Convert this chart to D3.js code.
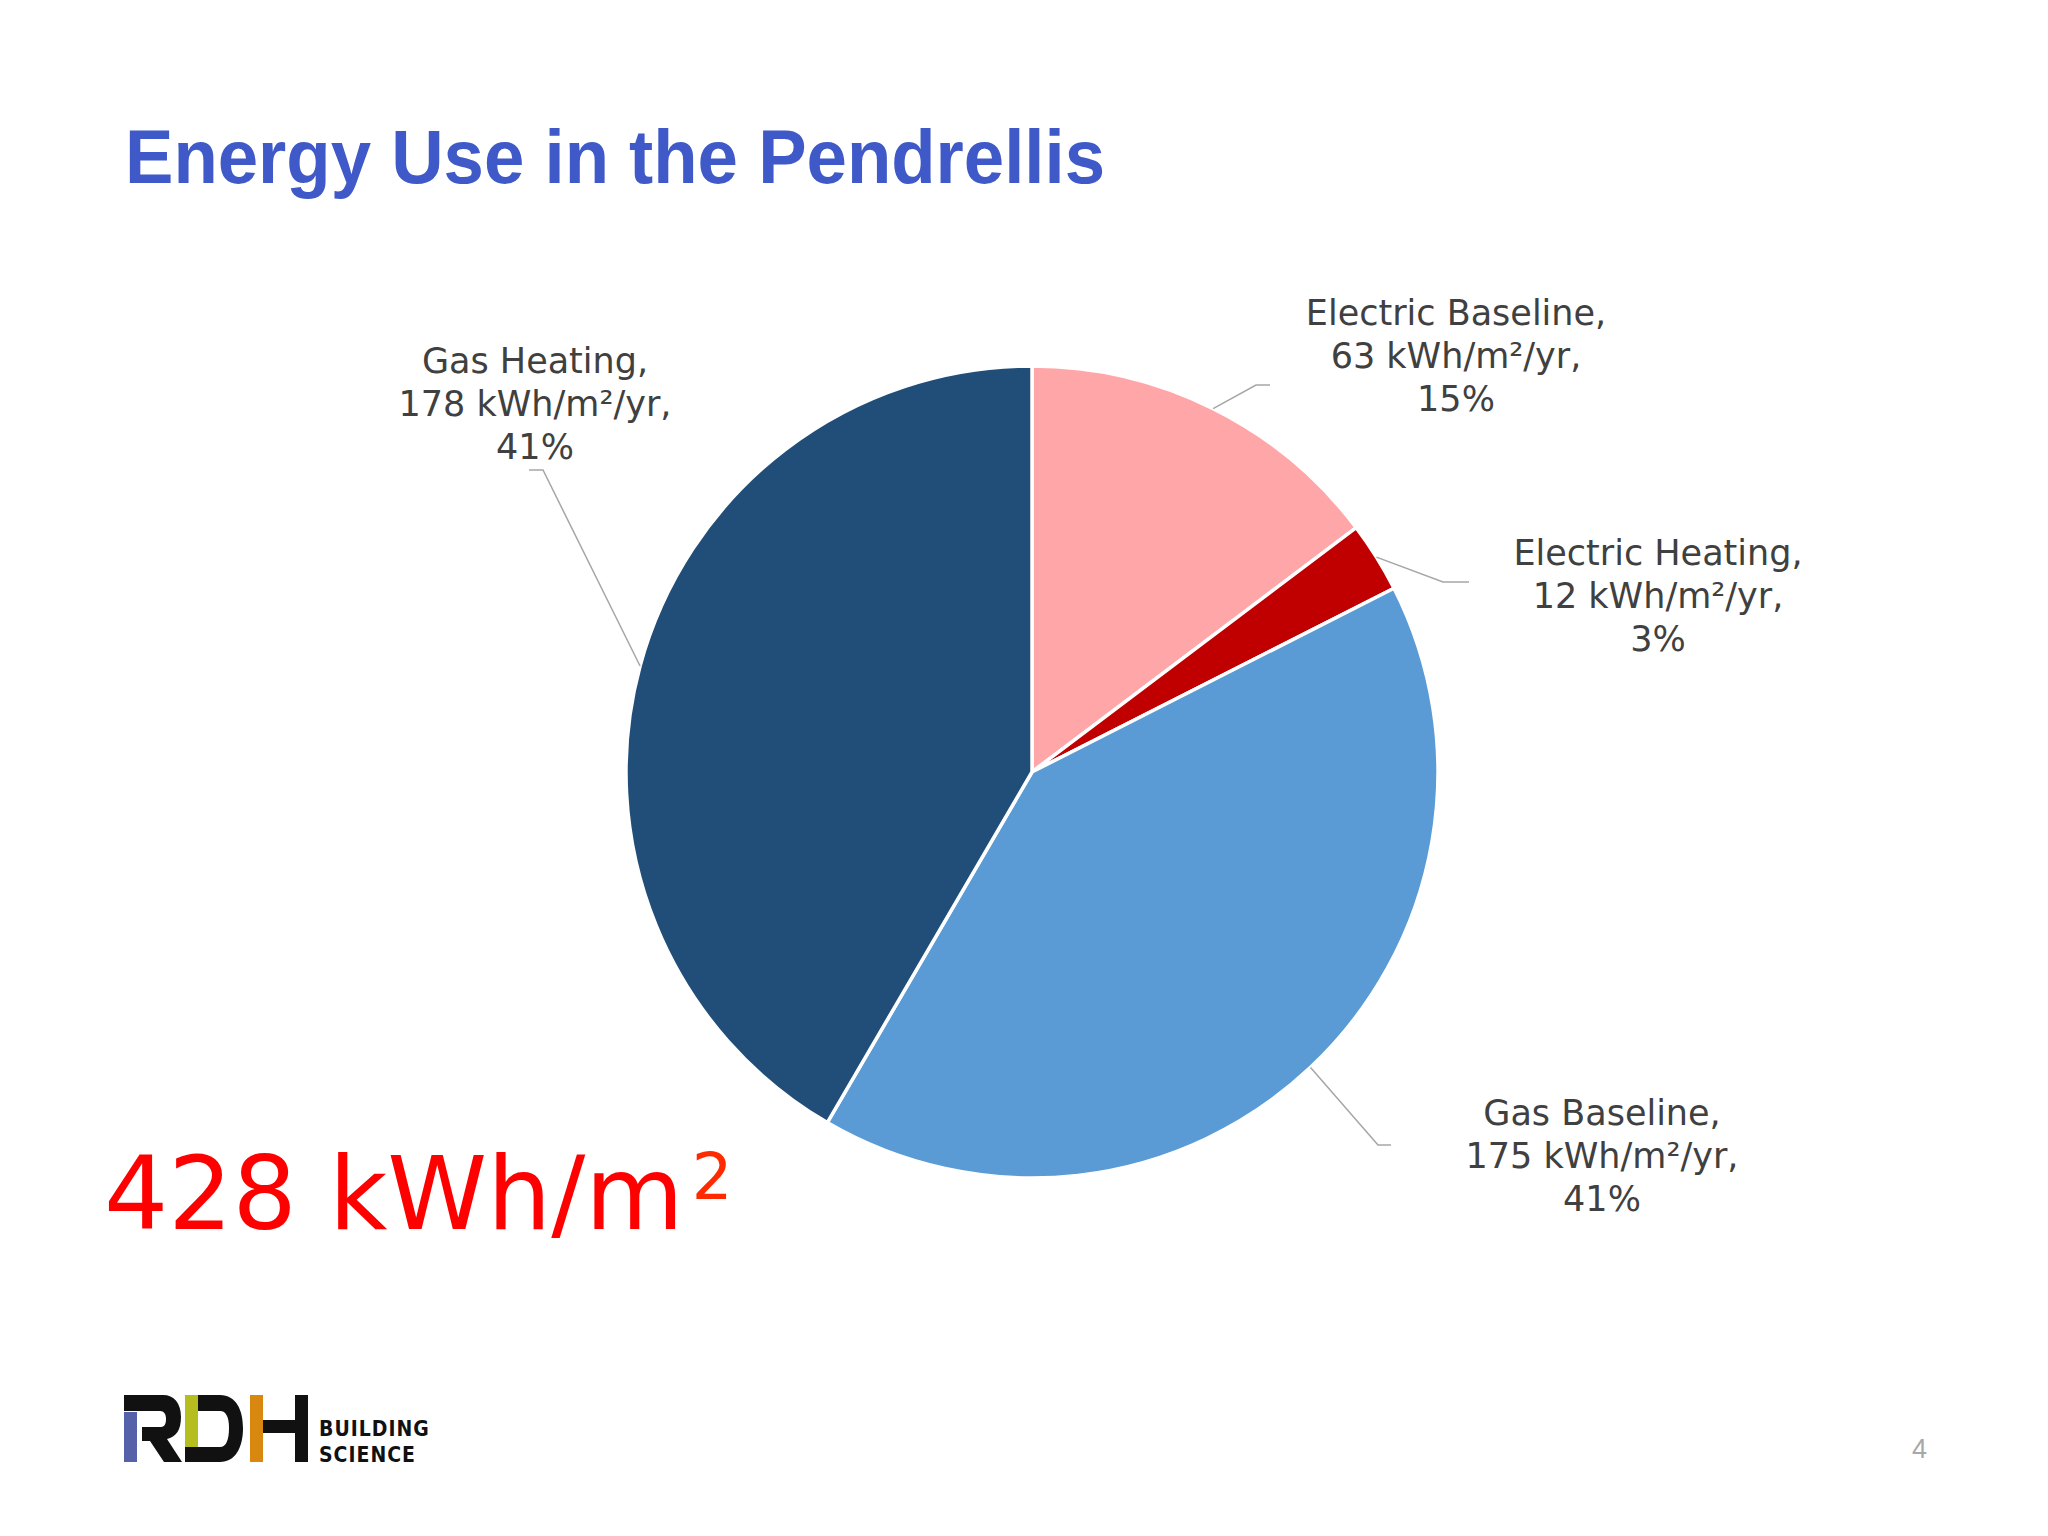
<!DOCTYPE html>
<html>
<head>
<meta charset="utf-8">
<script src="https://cdn.jsdelivr.net/npm/d3@7"></script>
<style>
  html, body { margin: 0; padding: 0; background: #ffffff; }
  svg { display: block; }
</style>
</head>
<body>
<svg id="chart" width="2048" height="1536"></svg>
<script>
// ---- data ----
const categories = ["Electric Baseline", "Electric Heating", "Gas Baseline", "Gas Heating"];
const values = [63, 12, 175, 178];
const percentLabels = ["15%", "3%", "41%", "41%"];
const unitLabel = "kWh/m²/yr";
const titleText = "Energy Use in the Pendrellis";
const pageNumber = "4";

// ---- styles / layout ----
const colors = ["#FFA7A8", "#C00000", "#5B9BD5", "#214E79"];
const W = 2048, H = 1536;
const cx = 1032, cy = 772, R = 406;
const labelLayout = {
  "Electric Baseline": { x: 1456, y: 325, elbow: [1256, 385], end: [1270, 385] },
  "Electric Heating":  { x: 1658, y: 565, elbow: [1443, 582], end: [1469, 582] },
  "Gas Baseline":      { x: 1602, y: 1125, elbow: [1378, 1145], end: [1391, 1145] },
  "Gas Heating":       { x: 535,  y: 373, elbow: [543, 470], end: [529, 470] }
};

const svg = d3.select("#chart");
svg.append("rect").attr("width", W).attr("height", H).attr("fill", "#ffffff");

// Title
svg.append("text")
  .attr("x", 125).attr("y", 183)
  .attr("font-family", "Liberation Sans, Arial, sans-serif")
  .attr("font-weight", "bold")
  .attr("font-size", 76)
  .attr("fill", "#3F5AC8")
  .attr("textLength", 980)
  .attr("lengthAdjust", "spacingAndGlyphs")
  .text(titleText);

// Pie
const data = categories.map((c, i) => ({ category: c, value: values[i], pct: percentLabels[i], color: colors[i] }));
const pie = d3.pie().sort(null).value(d => d.value).startAngle(0).endAngle(2 * Math.PI);
const arc = d3.arc().innerRadius(0).outerRadius(R);
const arcs = pie(data);

const g = svg.append("g").attr("transform", `translate(${cx},${cy})`);
g.selectAll("path.slice")
  .data(arcs)
  .join("path")
  .attr("class", "slice")
  .attr("d", arc)
  .attr("fill", d => d.data.color)
  .attr("stroke", "#ffffff")
  .attr("stroke-width", 3.5)
  .attr("stroke-linejoin", "round");

// Leader lines
arcs.forEach(a => {
  const mid = (a.startAngle + a.endAngle) / 2;
  const sx = cx + R * Math.sin(mid);
  const sy = cy - R * Math.cos(mid);
  const L = labelLayout[a.data.category];
  svg.append("polyline")
    .attr("points", [[sx, sy], L.elbow, L.end].map(p => p.join(",")).join(" "))
    .attr("fill", "none")
    .attr("stroke", "#A6A6A6")
    .attr("stroke-width", 1.5);
});

// Labels
arcs.forEach(a => {
  const L = labelLayout[a.data.category];
  const lines = [a.data.category + ",", `${a.data.value} ${unitLabel},`, a.data.pct];
  const t = svg.append("text")
    .attr("text-anchor", "middle")
    .attr("font-family", "DejaVu Sans, sans-serif")
    .attr("font-size", 35)
    .attr("fill", "#404040");
  lines.forEach((ln, i) => {
    t.append("tspan").attr("x", L.x).attr("y", L.y + i * 43).text(ln);
  });
});

// Total
const total = d3.sum(values);
const tot = svg.append("text")
  .attr("x", 104).attr("y", 1229)
  .attr("font-family", "DejaVu Sans, sans-serif")
  .attr("font-size", 101)
  .attr("fill", "#FF0000");
tot.append("tspan").text(`${total} kWh/m`);
tot.append("tspan").attr("dx", 8).attr("dy", -30).attr("font-size", 64).attr("fill", "#FF2A00").text("2");

// Logo
const logo = svg.append("g");
// R
logo.append("rect").attr("x", 124).attr("y", 1412).attr("width", 13).attr("height", 50).attr("fill", "#5562AA");
logo.append("path")
  .attr("d", "M124,1395 H163 C174,1395 181,1403 181,1417 C181,1430 176,1437 167,1439 L182,1462 H164 L150,1441 H142 V1427 H161 C165,1427 166,1423 166,1419 C166,1414 164,1411 160,1411 H124 Z")
  .attr("fill", "#111111");
// D
logo.append("rect").attr("x", 185).attr("y", 1395).attr("width", 13).attr("height", 52).attr("fill", "#B5BE1E");
logo.append("path")
  .attr("d", "M198,1395 H220 C236,1395 243,1410 243,1428 C243,1448 235,1462 220,1462 H185 V1447 H220 C226,1447 229,1440 229,1428 C229,1417 226,1411 220,1411 H198 Z")
  .attr("fill", "#111111");
// H
logo.append("rect").attr("x", 250).attr("y", 1395).attr("width", 13).attr("height", 67).attr("fill", "#D9880F");
logo.append("rect").attr("x", 263).attr("y", 1420).attr("width", 33).attr("height", 13).attr("fill", "#111111");
logo.append("rect").attr("x", 295).attr("y", 1395).attr("width", 13).attr("height", 67).attr("fill", "#111111");
logo.append("text").attr("x", 319).attr("y", 1436)
  .attr("font-family", "DejaVu Sans Condensed, DejaVu Sans, sans-serif").attr("font-weight", "bold")
  .attr("font-size", 21).attr("letter-spacing", 1).attr("fill", "#111111").text("BUILDING");
logo.append("text").attr("x", 319).attr("y", 1462)
  .attr("font-family", "DejaVu Sans Condensed, DejaVu Sans, sans-serif").attr("font-weight", "bold")
  .attr("font-size", 21).attr("letter-spacing", 1).attr("fill", "#111111").text("SCIENCE");

// Page number
svg.append("text").attr("x", 1912).attr("y", 1458)
  .attr("font-family", "Liberation Sans, Arial, sans-serif")
  .attr("font-size", 27).attr("fill", "#A8A8A8").text(pageNumber);
</script>
</body>
</html>
